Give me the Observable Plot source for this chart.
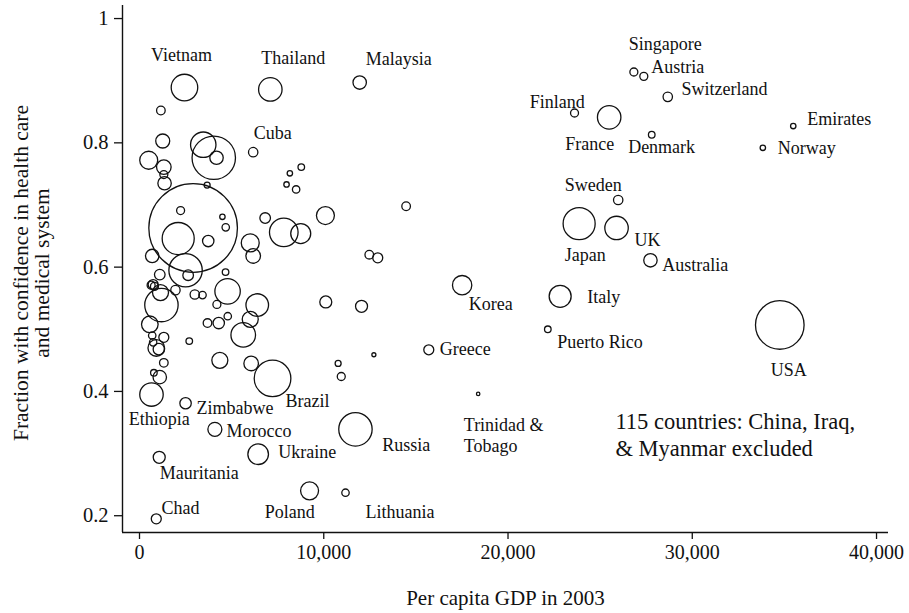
<!DOCTYPE html>
<html><head><meta charset="utf-8">
<script src="https://cdn.jsdelivr.net/npm/d3@7"></script>
<script src="https://cdn.jsdelivr.net/npm/@observablehq/plot@0.6"></script>
<style>body{margin:0;background:#fff}</style>
</head><body><div id="chart"></div>
<script>
// ---- data ----
const countries = ["Vietnam","Thailand","Malaysia","Cuba","Singapore","Austria","Switzerland","Finland","France","Denmark","Emirates","Norway","Sweden","Japan","UK","Australia","Korea","Italy","Puerto Rico","Greece","USA","Trinidad & Tobago","Russia","Lithuania","Poland","Ukraine","Morocco","Zimbabwe","Brazil","Ethiopia","Mauritania","Chad","India",
"","","","","","","","","","","","","","","","","","","","","","","","","","","","","","","","","","","","","","","","","","","","","","","","","","","","","","","","","","","","","","","","","",""];
const gdp = [2440,7100,11950,6170,26830,27370,28670,23610,25490,27800,35480,33830,25980,23860,25890,27730,17510,22830,22160,15700,34750,18380,11720,11180,9230,6440,4090,2500,7220,650,1070,910,2910,
1160,1260,3460,4030,4180,500,1320,1320,1360,8780,8160,7980,8500,3670,2230,4500,4680,2100,3730,2500,2640,690,1100,740,630,810,1140,1950,1190,560,690,1320,740,910,1050,1320,780,1100,3000,3420,4670,4780,4200,4790,3690,4300,5630,6010,6390,2700,4360,6060,6010,6170,6820,7830,8750,10090,12470,12930,14470,10110,12050,12720,10780,10950,6120,1450,25020,20500,19770,15850,25960,27500,19630,22000,26010,27690,17220,20590,21870,28100];
const confidence = [0.889,0.886,0.897,0.785,0.914,0.907,0.874,0.848,0.841,0.813,0.827,0.792,0.708,0.670,0.663,0.611,0.571,0.553,0.500,0.467,0.507,0.396,0.339,0.237,0.240,0.299,0.339,0.381,0.421,0.395,0.294,0.195,0.663,
0.852,0.803,0.797,0.776,0.776,0.772,0.761,0.749,0.735,0.761,0.751,0.733,0.725,0.732,0.691,0.681,0.664,0.646,0.642,0.595,0.587,0.618,0.588,0.572,0.571,0.569,0.559,0.563,0.539,0.508,0.490,0.487,0.479,0.470,0.468,0.446,0.430,0.423,0.556,0.555,0.592,0.561,0.540,0.521,0.510,0.510,0.491,0.516,0.539,0.481,0.450,0.445,0.639,0.618,0.679,0.656,0.654,0.683,0.620,0.615,0.698,0.544,0.537,0.459,0.445,0.424,0.406,0.318,0.888,0.813,0.793,0.772,0.775,0.745,0.703,0.689,0.675,0.691,0.654,0.653,0.633,0.609];
const population = [96,75,24.5,12,8.7,8.7,12,8.7,75,5.9,4,4,12,140,75,24.5,51,66,5.9,13.6,322,1.6,152,7.5,44,58,26.7,17.7,183,75,19.6,13.6,1070,
10.1,26.7,88,257,24.5,44,29,8.7,24.5,5.9,4,4,7.5,4.9,8.7,4,7.5,140,17.7,152,15.3,24.5,15.3,13.6,8.7,8.7,35,12,152,37.6,7.5,13.6,7.5,37.6,17.7,10.1,5.9,24.5,12,7.5,5.9,88,8.7,7.5,10.1,17.7,82.5,35,69.6,5.9,35,29,44,29,15.3,111.5,54.5,44,10.1,13.6,10.1,19.6,19.6,2.2,4.9,8.7,5.9,4,15.3,54.5,32.3,29,4.9,10.1,4,5.9,15.3,35,12,8.7,1.6,5.9];
const xTicks = [0, 10000, 20000, 30000, 40000];
const yTicks = [0.2, 0.4, 0.6, 0.8, 1];
const xTitle = "Per capita GDP in 2003";
const yTitle = "Fraction with confidence in health care\nand medical system";
const noteText = "115 countries: China, Iraq,\n& Myanmar excluded";
const note = {gdp: 25830, conf: 0.332, text: noteText};

// ---- label placement (layout, pixels relative to the circle) ----
const labelLayout = [
  ["Vietnam",-3,-33,"middle"],["Thailand",23,-32,"middle"],["Malaysia",6,-24,"start"],
  ["Cuba",0.6,-19.5,"start"],["Singapore",-5,-29,"start"],["Austria",7.4,-10,"start"],
  ["Switzerland",13.7,-8.7,"start"],["Finland",-17.3,-11.7,"middle"],["France",-19.5,26.3,"middle"],
  ["Denmark",-23.6,11.3,"start"],["Emirates",14,-8,"start"],["Norway",15,-0.7,"start"],
  ["Sweden",-25,-15.7,"middle"],["Japan",6,30.4,"middle"],["UK",18,11.3,"start"],
  ["Australia",11.7,4,"start"],["Korea",6.6,18,"start"],["Italy",27,0,"start"],
  ["Puerto Rico",9.4,12,"start"],["Greece",11,-1.4,"start"],["USA",9,44,"middle"],
  ["Trinidad & Tobago",-14.4,41,"start"],["Russia",26.7,15,"start"],["Lithuania",20,18.8,"start"],
  ["Poland",-19.8,20.8,"middle"],["Ukraine",20,-2.6,"start"],["Morocco",11.7,0.7,"start"],
  ["Zimbabwe",11,4.5,"start"],["Brazil",13,21.7,"start"],["Ethiopia",7.7,24.2,"middle"],
  ["Mauritania",0.6,15.2,"start"],["Chad",5.3,-11.5,"start"]
];
const labelText = {"Trinidad & Tobago": "Trinidad &\nTobago"};

const data = countries.map((name, i) => ({name, gdp: gdp[i], conf: confidence[i], pop: population[i]}));
const byName = new Map(data.filter(d => d.name).map(d => [d.name, d]));

const xDomain = [-923, 40650];
const yDomain = [0.173, 1.021];
const font = "'Liberation Serif', 'Times New Roman', serif";

const labelMarks = labelLayout.map(([name, dx, dy, anchor]) =>
  Plot.text([byName.get(name)], {
    x: "gdp", y: "conf", text: d => labelText[d.name] || d.name,
    dx, dy, textAnchor: anchor, fontSize: 18, lineHeight: 1.14, fill: "#111"
  })
);

const chart = Plot.plot({
  width: 909, height: 613,
  marginLeft: 122, marginRight: 21, marginTop: 5, marginBottom: 81,
  style: {fontFamily: font, fontSize: "20px", background: "#fff", color: "#111"},
  x: {domain: xDomain},
  y: {domain: yDomain},
  r: {type: "sqrt", domain: [0, 1070], range: [0, 44.3]},
  marks: [
    Plot.ruleX([xDomain[0]], {stroke: "#111", strokeWidth: 1.4}),
    Plot.ruleY([yDomain[0]], {stroke: "#111", strokeWidth: 1.4}),
    Plot.axisX({ticks: xTicks, tickFormat: d3.format(","), tickSize: 7, tickPadding: 5, label: null, fontSize: 20, strokeWidth: 1.3}),
    Plot.axisY({ticks: yTicks, tickFormat: d => d === 1 ? "1" : d.toFixed(1), tickSize: 8, tickPadding: 6, label: null, fontSize: 20.5, strokeWidth: 1.3}),
    Plot.dot(data, {x: "gdp", y: "conf", r: "pop", stroke: "#111", strokeWidth: 1.3, fill: "none"}),
    ...labelMarks,
    Plot.text([note], {x: "gdp", y: "conf", text: "text", textAnchor: "start", fontSize: 22.5, lineHeight: 1.22, fill: "#111"}),
    Plot.text([xTitle], {text: d => d, frameAnchor: "bottom", textAnchor: "middle", dy: 72, fontSize: 21, fill: "#111"}),
    Plot.text([yTitle], {text: d => d, frameAnchor: "left", textAnchor: "middle", dx: -91, dy: 4, rotate: -90, fontSize: 21.5, lineHeight: 1.02, fill: "#111"})
  ]
});
document.getElementById("chart").append(chart);
</script>
</body></html>
